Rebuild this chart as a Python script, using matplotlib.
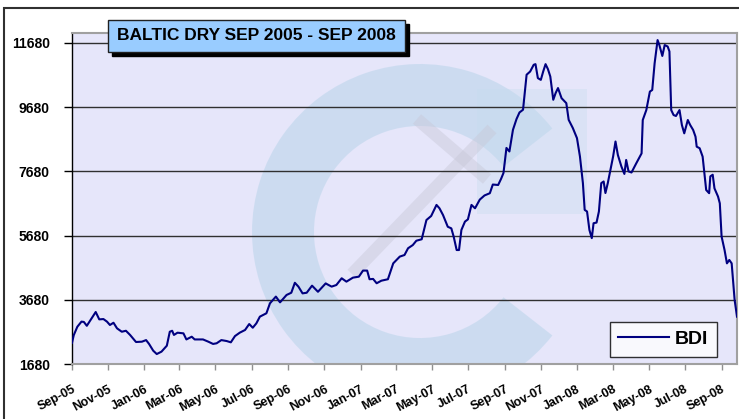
import matplotlib
matplotlib.use("Agg")
import matplotlib.pyplot as plt
import matplotlib.dates as mdates
from matplotlib.patches import Rectangle, Wedge
import pandas as pd

plt.rcParams['font.family'] = ['Liberation Sans', 'DejaVu Sans']

# BDI readings (estimated from the chart)
fechas = [
    "2005-09-01", "2005-09-04", "2005-09-10", "2005-09-17", "2005-09-21", "2005-09-26",
    "2005-10-04", "2005-10-11", "2005-10-17", "2005-10-24", "2005-10-30", "2005-11-04",
    "2005-11-10", "2005-11-16", "2005-11-24", "2005-12-01", "2005-12-08", "2005-12-18",
    "2005-12-28", "2006-01-04", "2006-01-09", "2006-01-16", "2006-01-22", "2006-01-30",
    "2006-02-08", "2006-02-13", "2006-02-17", "2006-02-20", "2006-02-26", "2006-03-08",
    "2006-03-13", "2006-03-22", "2006-03-27", "2006-04-10", "2006-04-19", "2006-04-27",
    "2006-05-03", "2006-05-11", "2006-05-20", "2006-05-27", "2006-06-03", "2006-06-11",
    "2006-06-20", "2006-06-27", "2006-07-03", "2006-07-09", "2006-07-15", "2006-07-26",
    "2006-08-01", "2006-08-11", "2006-08-18", "2006-08-29", "2006-09-06", "2006-09-12",
    "2006-09-18", "2006-09-25", "2006-10-02", "2006-10-11", "2006-10-21", "2006-11-03",
    "2006-11-13", "2006-11-21", "2006-11-30", "2006-12-08", "2006-12-19", "2006-12-29",
    "2007-01-05", "2007-01-12", "2007-01-16", "2007-01-22", "2007-01-28", "2007-02-05",
    "2007-02-16", "2007-02-25", "2007-03-08", "2007-03-16", "2007-03-22", "2007-03-30",
    "2007-04-05", "2007-04-14", "2007-04-22", "2007-04-30", "2007-05-09", "2007-05-14",
    "2007-05-20", "2007-05-28", "2007-06-03", "2007-06-07", "2007-06-12", "2007-06-16",
    "2007-06-20", "2007-06-26", "2007-07-01", "2007-07-07", "2007-07-13", "2007-07-21",
    "2007-07-29", "2007-08-07", "2007-08-12", "2007-08-21", "2007-08-26", "2007-08-30",
    "2007-09-04", "2007-09-09", "2007-09-15", "2007-09-21", "2007-09-26", "2007-10-02",
    "2007-10-08", "2007-10-14", "2007-10-20", "2007-10-23", "2007-10-27", "2007-11-01",
    "2007-11-05", "2007-11-09", "2007-11-13", "2007-11-17", "2007-11-22", "2007-11-26",
    "2007-11-30", "2007-12-06", "2007-12-14", "2007-12-18", "2007-12-25", "2008-01-01",
    "2008-01-06", "2008-01-11", "2008-01-14", "2008-01-18", "2008-01-22", "2008-01-26",
    "2008-01-29", "2008-02-03", "2008-02-07", "2008-02-11", "2008-02-15", "2008-02-18",
    "2008-02-22", "2008-02-26", "2008-03-02", "2008-03-06", "2008-03-10", "2008-03-16",
    "2008-03-21", "2008-03-24", "2008-03-28", "2008-04-02", "2008-04-10", "2008-04-19",
    "2008-04-21", "2008-04-27", "2008-05-03", "2008-05-07", "2008-05-11", "2008-05-16",
    "2008-05-19", "2008-05-24", "2008-05-28", "2008-06-02", "2008-06-05", "2008-06-08",
    "2008-06-12", "2008-06-16", "2008-06-22", "2008-06-26", "2008-06-30", "2008-07-06",
    "2008-07-10", "2008-07-15", "2008-07-19", "2008-07-21", "2008-07-26", "2008-07-31",
    "2008-08-06", "2008-08-11", "2008-08-13", "2008-08-17", "2008-08-20", "2008-08-26",
    "2008-08-29", "2008-09-01", "2008-09-06", "2008-09-10", "2008-09-14", "2008-09-18",
    "2008-09-23", "2008-09-27",
]
bdi = [
    2340, 2580, 2840, 3000, 2990, 2870,
    3100, 3300, 3070, 3080, 3000, 2895,
    2965, 2790, 2685, 2715, 2585, 2365,
    2375, 2425, 2305, 2095, 1990, 2065,
    2250, 2685, 2715, 2585, 2655, 2635,
    2445, 2530, 2445, 2445, 2375, 2305,
    2325, 2425, 2395, 2355, 2550, 2655,
    2740, 2925, 2810, 2945, 3155, 3260,
    3570, 3780, 3600, 3830, 3900, 4210,
    4090, 3880, 3900, 4120, 3930, 4190,
    4090, 4140, 4350, 4245, 4370, 4400,
    4590, 4590, 4320, 4330, 4195, 4275,
    4320, 4815, 5025, 5075, 5285, 5385,
    5520, 5565, 6165, 6290, 6635, 6530,
    6320, 5955, 5905, 5645, 5230, 5230,
    5855, 6115, 6185, 6635, 6530, 6800,
    6930, 7000, 7270, 7256, 7450, 7630,
    8410, 8300, 8975, 9310, 9515, 9600,
    10690, 10790, 11000, 11020, 10585, 10530,
    10790, 11020, 10865, 10635, 9910, 10120,
    10275, 9960, 9805, 9285, 9030, 8715,
    8145, 7315, 6480, 6430, 5855, 5600,
    6065, 6085, 6430, 7315, 7365, 7005,
    7315, 7680, 8145, 8610, 8190, 7830,
    7600, 8035, 7680, 7645, 7930, 8240,
    9280, 9590, 10165, 10215, 11045, 11770,
    11615, 11275, 11615, 11570, 11415, 9590,
    9435, 9405, 9590, 9125, 8865, 9280,
    9125, 8970, 8760, 8450, 8400, 8140,
    7100, 7000, 7525, 7575, 7150, 6895,
    6685, 5650, 5230, 4815, 4920, 4815,
    3675, 3155,
]
y_ticks = [1680, 3680, 5680, 7680, 9680, 11680]
titulo = "BALTIC DRY SEP 2005 - SEP 2008"
serie = "BDI"

W, H = 739, 419


def fx(x):
    return x / W


def fy(y):
    return 1 - y / H


fig = plt.figure(figsize=(W / 100, H / 100), dpi=100)
fig.patch.set_facecolor("white")

# marco exterior del grafico
fig.patches.append(Rectangle((fx(4), fy(430)), fx(760), 422 / H, transform=fig.transFigure,
                             fill=False, edgecolor="#303030", lw=1.5, zorder=0))

rect = [fx(72), fy(364), fx(737) - fx(72), fy(33) - fy(364)]

# fondo con marca de agua (logo difuminado)
bg = fig.add_axes(rect, zorder=0)
bg.set_facecolor("#e6e6fa")
bg.set_xlim(0, 665)
bg.set_ylim(0, 331)
bg.set_xticks([])
bg.set_yticks([])
for s in bg.spines.values():
    s.set_visible(False)
bg.add_patch(Wedge((348, 132), 168, 38, 322, width=62, facecolor="#b4d2e8", edgecolor="none", alpha=0.5))
bg.add_patch(Rectangle((405, 150), 110, 125, facecolor="#c6dcee", edgecolor="none", alpha=0.35))
bg.plot([280, 420], [90, 235], color="#c8c8d8", lw=9, alpha=0.45, solid_capstyle="butt")
bg.plot([345, 415], [245, 185], color="#c8c8d8", lw=9, alpha=0.45, solid_capstyle="butt")

ax = fig.add_axes(rect, zorder=1)
ax.set_facecolor("none")

x = pd.to_datetime(fechas)
ax.plot(x, bdi, color="#000080", lw=1.5, label=serie, zorder=3)

ax.set_xlim(pd.Timestamp("2005-09-01"), pd.Timestamp("2008-09-27"))
ax.set_ylim(1680, 11990)
ax.set_yticks(y_ticks)
ax.yaxis.grid(True, color="#303030", lw=1)
ax.set_axisbelow(True)

ax.xaxis.set_major_locator(mdates.MonthLocator(bymonth=[1, 3, 5, 7, 9, 11]))
ax.xaxis.set_major_formatter(mdates.DateFormatter("%b-%y"))
for lab in ax.get_yticklabels():
    lab.set_fontweight("bold")
    lab.set_fontsize(10)
for lab in ax.get_xticklabels():
    lab.set_fontweight("bold")
    lab.set_fontsize(9)
    lab.set_rotation(28)
    lab.set_ha("right")
    lab.set_rotation_mode("anchor")
ax.tick_params(axis="y", length=6, width=1, color="black", pad=10)
ax.tick_params(axis="x", length=4, width=1, color="#909090", pad=10)

ax.spines["left"].set_color("black")
ax.spines["left"].set_linewidth(1)
for s in ["top", "right", "bottom"]:
    ax.spines[s].set_color("#a0a0a0")
    ax.spines[s].set_linewidth(1.5)

leg = ax.legend(loc="lower right", fontsize=14, frameon=True, fancybox=False,
                handlelength=2.6, borderpad=0.45, handletextpad=0.3, borderaxespad=0)
leg.get_frame().set_edgecolor("black")
leg.get_frame().set_linewidth(1)
for t in leg.get_texts():
    t.set_fontweight("bold")
leg.set_bbox_to_anchor((fx(717), fy(357)), transform=fig.transFigure)

# caja del titulo con sombra
fig.patches.append(Rectangle((fx(112), fy(56)), fx(297), 32 / H, transform=fig.transFigure,
                             facecolor="black", edgecolor="black", zorder=5))
fig.patches.append(Rectangle((fx(108), fy(52)), fx(297), 32 / H, transform=fig.transFigure,
                             facecolor="#99ccff", edgecolor="#202020", lw=1, zorder=6))
fig.text(fx(256.5), fy(36), titulo, ha="center", va="center", fontsize=12.5,
         fontweight="bold", zorder=7)

fig.savefig("out.png", dpi=100)
